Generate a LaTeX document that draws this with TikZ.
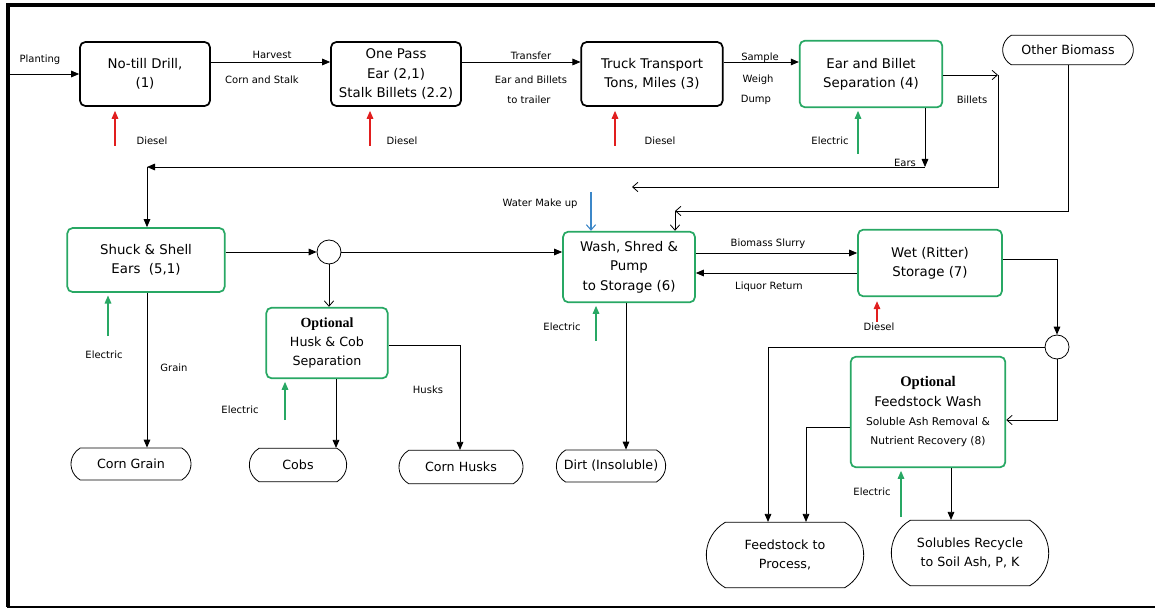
\documentclass[tikz,border=0pt]{standalone}
\usepackage{fontspec}
\setmainfont{DejaVu Sans}
\newfontfamily\optfont{Liberation Serif}
\usetikzlibrary{arrows.meta,shapes.misc}
\definecolor{procgreen}{RGB}{40,168,100}
\definecolor{dieselred}{RGB}{225,30,30}
\definecolor{waterblue}{RGB}{60,135,200}
\tikzset{
  box/.style={draw, rounded corners=4pt, line width=1.3pt, align=center, inner sep=1pt, font=\fontsize{10}{14.5}\selectfont},
  gbox/.style={box, draw=procgreen},
  term/.style={draw, rounded rectangle, rounded rectangle arc length=120, line width=0.6pt, align=center, inner sep=1pt, font=\fontsize{9.5}{14}\selectfont},
  junc/.style={draw, circle, line width=0.6pt, minimum size=18pt, inner sep=0pt},
  lbl/.style={font=\fontsize{7.5}{9}\selectfont, inner sep=0pt, align=center},
  flow/.style={line width=0.6pt, -{Triangle[length=6pt,width=5pt]}},
  oflow/.style={line width=0.6pt, -{Straight Barb[length=4pt,width=7pt]}},
  diesel/.style={draw=dieselred, line width=0.8pt, -{Triangle[length=6pt,width=5pt]}, shorten >=3pt},
  electric/.style={draw=procgreen, line width=0.8pt, -{Triangle[length=6pt,width=5pt]}, shorten >=2pt},
  water/.style={draw=waterblue, line width=0.8pt, -{Straight Barb[length=4pt,width=7pt]}}
}

\begin{document}
\begin{tikzpicture}[x=0.75pt,y=-0.75pt]
			%%%%% START %%%%%
			\useasboundingbox (0,0) rectangle (1155,609);
			
			% frame
			\draw[line width=3pt] (6,5) -- (1155,5);
			\draw[line width=3pt] (8,4) -- (8,607);
			\draw[line width=1pt] (7,607) -- (1155,607);
			
			% top row
			\node[box, minimum width=97.5pt, minimum height=48pt] (drill) at (145,74) {No-till Drill,\\(1)};
			\node[box, minimum width=97.5pt, minimum height=48pt] (pass) at (396,74) {One Pass\\Ear (2,1)\\Stalk Billets (2.2)};
			\node[box, minimum width=106pt, minimum height=48pt] (truck) at (652,74) {Truck Transport\\Tons, Miles (3)};
			\node[gbox, minimum width=107pt, minimum height=50pt] (sep) at (871,74) {Ear and Billet\\Separation (4)};
			\node[term, minimum width=100pt, minimum height=22pt] (other) at (1068,50) {Other Biomass};
			
			% middle row
			\node[gbox, minimum width=118pt, minimum height=48pt] (shuck) at (146,260) {Shuck \& Shell\\Ears\ \ (5,1)};
			\node[junc] (jA) at (329,252) {};
			\node[gbox, minimum width=99pt, minimum height=53pt] (wash) at (629,267) {Wash, Shred \&\\Pump\\to Storage (6)};
			\node[gbox, minimum width=108pt, minimum height=50pt] (wet) at (930,263) {Wet (Ritter)\\Storage (7)};
			\node[junc] (jB) at (1057,347) {};
			\node[gbox, font=\fontsize{9.5}{14.5}\selectfont, minimum width=91pt, minimum height=53pt] (husk) at (327,343) {{\optfont\bfseries\fontsize{10.5}{14.5}\selectfont Optional}\\Husk \& Cob\\Separation};
			\node[gbox, minimum width=116pt, minimum height=83pt] (fwash) at (928,412) {{\optfont\bfseries\fontsize{11}{14.5}\selectfont Optional}\\Feedstock Wash\\{\fontsize{8}{11}\selectfont Soluble Ash Removal \&}\\{\fontsize{8}{11}\selectfont Nutrient Recovery (8)}};
			
			% outputs
			\node[term, minimum width=92pt, minimum height=24pt] (grain) at (131,464) {Corn Grain};
			\node[term, minimum width=75pt, minimum height=25pt] (cobs) at (298,465) {Cobs};
			\node[term, minimum width=95pt, minimum height=25pt] (husks) at (461,467) {Corn Husks};
			\node[term, minimum width=84pt, minimum height=24pt] (dirt) at (611,466) {Dirt (Insoluble)};
			\node[term, minimum width=120pt, minimum height=49pt] (feed) at (785,555) {Feedstock to\\Process,};
			\node[term, minimum width=120pt, minimum height=49pt] (solub) at (970,553) {Solubles Recycle\\to Soil Ash, P, K};
			
			% free ends and bends
			\coordinate (plant) at (10,74);
			\coordinate (ears) at (925,167);
			\coordinate (earsL) at (147,167);
			\coordinate (billets) at (998,75);
			\coordinate (billetsend) at (632,187);
			\coordinate (bioturn) at (675,211);
			\coordinate (water) at (591,192);
			\coordinate (d1) at (115,146);
			\coordinate (d2) at (370,146);
			\coordinate (d3) at (615,146);
			\coordinate (d4) at (877,322);
			\coordinate (e1) at (858,154);
			\coordinate (e2) at (108,336);
			\coordinate (e3) at (285,420);
			\coordinate (e4) at (596,341);
			\coordinate (e5) at (901,517);
			
			% main line
			\draw[flow] (plant) -- (drill.west);
			\draw[flow] ([yshift=9pt]drill.east) -- ([yshift=9pt]pass.west);
			\draw[flow] ([yshift=9pt]pass.east) -- ([yshift=9pt]truck.west);
			\draw[flow] ([yshift=9pt]truck.east) -- ([yshift=9pt]sep.west);
			\node[lbl] (lplant) at (40,60) {Planting};
			\node[lbl] (lharv) at (272,55) {Harvest};
			\node[lbl] (lcorn) at (262,80) {Corn and Stalk};
			\node[lbl] (ltrans) at (531,56) {Transfer};
			\node[lbl] (lbill) at (531,80) {Ear and Billets};
			\node[lbl] (ltrail) at (529,100) {to trailer};
			\node[lbl] (lsamp) at (760,58) {Sample};
			\node[lbl] (lweigh) at (758,80) {Weigh};
			\node[lbl] (ldump) at (756,100) {Dump};
			
			% energy inputs
			\draw[diesel] (d1) -- (drill.south -| d1);
			\draw[diesel] (d2) -- (pass.south -| d2);
			\draw[diesel] (d3) -- (truck.south -| d3);
			\draw[diesel] (d4) -- (wet.south -| d4);
			\draw[electric] (e1) -- (sep.south -| e1);
			\draw[electric] (e2) -- (shuck.south -| e2);
			\draw[electric] (e3) -- (husk.south -| e3);
			\draw[electric] (e4) -- (wash.south -| e4);
			\draw[electric] (e5) -- (fwash.south -| e5);
			\draw[water] (water) -- (wash.north -| water);
			\node[lbl] (ld1) at (152,141) {Diesel};
			\node[lbl] (ld2) at (402,141) {Diesel};
			\node[lbl] (ld3) at (660,141) {Diesel};
			\node[lbl] (ld4) at (879,327) {Diesel};
			\node[lbl] (le1) at (830,141) {Electric};
			\node[lbl] (le2) at (104,355) {Electric};
			\node[lbl] (le3) at (240,410) {Electric};
			\node[lbl] (le4) at (562,327) {Electric};
			\node[lbl] (le5) at (872,492) {Electric};
			\node[lbl] (lwater) at (540,204) {Water Make up};
			
			% separation
			\draw[flow] (sep.south -| ears) -- (ears);
			\draw[flow] (ears) -- (earsL);
			\draw[flow] (earsL) -- (shuck.north -| earsL);
			\draw[oflow] (sep.east |- billets) -- (billets);
			\draw[oflow] (billets) |- (billetsend);
			\draw[oflow] (other.south) |- (bioturn);
			\draw[oflow] (bioturn) -- (wash.north -| bioturn);
			\node[lbl] (lears) at (905,163) {Ears};
			\node[lbl] (lbillets) at (972,100) {Billets};
			
			% shelling
			\draw[flow] (shuck.east |- jA) -- (jA.west);
			\draw[flow] (jA.east) -- (wash.west |- jA);
			\draw[oflow] (jA.south) -- (husk.north -| jA);
			\draw[flow] (shuck.south -| earsL) -- (grain.north -| earsL);
			\draw[flow] (husk.south -| 336,0) -- (cobs.north -| 336,0);
			\draw[flow] (husk.east |- 0,345) -| (husks.north -| 460,0);
			\node[lbl] (lgrain) at (174,368) {Grain};
			\node[lbl] (lhusks) at (428,390) {Husks};
			
			% wash and storage
			\draw[flow] (wash.south -| 626,0) -- (dirt.north -| 626,0);
			\draw[flow] (wash.east |- 0,253) -- (wet.west |- 0,253);
			\draw[flow] (wet.west |- 0,273) -- (wash.east |- 0,273);
			\node[lbl] (lslurry) at (768,244) {Biomass Slurry};
			\node[lbl] (lliquor) at (769,287) {Liquor Return};
			\draw[flow] (wet.east |- 0,259) -| (jB.north);
			\draw[flow] (jB.west) -| (feed.north -| 768,0);
			\draw[oflow] (jB.south) |- (fwash.east |- 0,420);
			\draw[flow] (fwash.west |- 0,427) -| (feed.north -| 806,0);
			\draw[flow] (fwash.south -| 951,0) -- (solub.north -| 951,0);
			
			%%%%% END %%%%%
\end{tikzpicture}
\end{document}
